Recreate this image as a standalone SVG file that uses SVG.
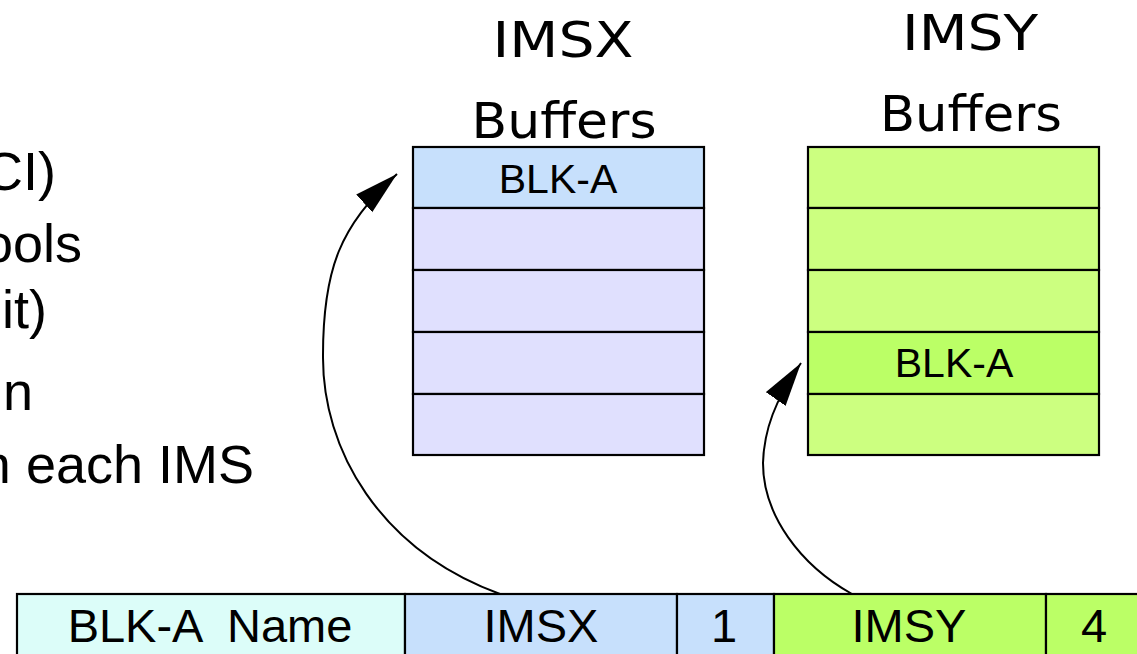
<svg xmlns="http://www.w3.org/2000/svg" width="1137" height="654" viewBox="0 0 1137 654">
<defs>
<style>
.cell{stroke:#000;stroke-width:2.2}
.lbl{font-family:"Liberation Sans",Arial,sans-serif;fill:#000;text-anchor:middle}
.ttl{font-family:"Comic Sans MS","DejaVu Sans",sans-serif;font-size:50px;fill:#000;text-anchor:middle}
.side{font-family:"Liberation Sans",Arial,sans-serif;font-size:54px;fill:#000;text-anchor:end}
.conn{fill:none;stroke:#000;stroke-width:2}
</style>
<marker id="ah" markerUnits="userSpaceOnUse" markerWidth="46" markerHeight="26" refX="44" refY="12" orient="auto">
<path d="M0,0 L44,12 L0,24 z" fill="#000"/>
</marker>
</defs>
<rect width="1137" height="654" fill="#fff"/>

<g id="side-text">
<text class="side" x="56" y="190">CI)</text>
<text class="side" x="82" y="262">ools</text>
<text class="side" x="47" y="328">it)</text>
<text class="side" x="33" y="410">n</text>
<text class="side" x="254" y="483">n each IMS</text>
</g>

<g id="imsx-title">
<text class="ttl" x="563" y="57" textLength="141" lengthAdjust="spacingAndGlyphs">IMSX</text>
<text class="ttl" x="564" y="138" textLength="185" lengthAdjust="spacingAndGlyphs">Buffers</text>
</g>
<g id="imsy-title">
<text class="ttl" x="970" y="50" textLength="136" lengthAdjust="spacingAndGlyphs">IMSY</text>
<text class="ttl" x="971" y="131" textLength="182" lengthAdjust="spacingAndGlyphs">Buffers</text>
</g>

<g id="imsx-buffers">
<rect class="cell" x="413" y="147" width="291" height="61" fill="#c7e0fc"/>
<rect class="cell" x="413" y="208" width="291" height="62" fill="#e0e0fe"/>
<rect class="cell" x="413" y="270" width="291" height="62" fill="#e0e0fe"/>
<rect class="cell" x="413" y="332" width="291" height="62" fill="#e0e0fe"/>
<rect class="cell" x="413" y="394" width="291" height="61" fill="#e0e0fe"/>
<text class="lbl" x="558" y="193" font-size="41">BLK-A</text>
</g>

<g id="imsy-buffers">
<rect class="cell" x="808" y="147" width="291" height="61" fill="#ccff80"/>
<rect class="cell" x="808" y="208" width="291" height="62" fill="#ccff80"/>
<rect class="cell" x="808" y="270" width="291" height="62" fill="#ccff80"/>
<rect class="cell" x="808" y="332" width="291" height="62" fill="#bbff66"/>
<rect class="cell" x="808" y="394" width="291" height="61" fill="#ccff80"/>
<text class="lbl" x="954" y="377" font-size="41">BLK-A</text>
</g>

<g id="record">
<rect class="cell" x="17" y="594" width="388" height="70" fill="#dcfdf9"/>
<rect class="cell" x="405" y="594" width="272" height="70" fill="#c7e0fc"/>
<rect class="cell" x="677" y="594" width="97" height="70" fill="#c7e0fc"/>
<rect class="cell" x="774" y="594" width="272" height="70" fill="#bbff66"/>
<rect class="cell" x="1046" y="594" width="100" height="70" fill="#bbff66"/>
<text class="lbl" x="210" y="642" font-size="47" style="white-space:pre">BLK-A  Name</text>
<text class="lbl" x="541" y="642" font-size="47">IMSX</text>
<text class="lbl" x="724" y="642" font-size="47">1</text>
<text class="lbl" x="909" y="642" font-size="47">IMSY</text>
<text class="lbl" x="1094" y="642" font-size="47">4</text>
</g>

<g id="connectors">
<path class="conn" d="M500,594 C380,550 322,450 323,355 C323,270 340,225 397,174" marker-end="url(#ah)"/>
<path class="conn" d="M852,594 C800,565 763,515 763,463 C764,430 775,400 801,363" marker-end="url(#ah)"/>
</g>
</svg>
